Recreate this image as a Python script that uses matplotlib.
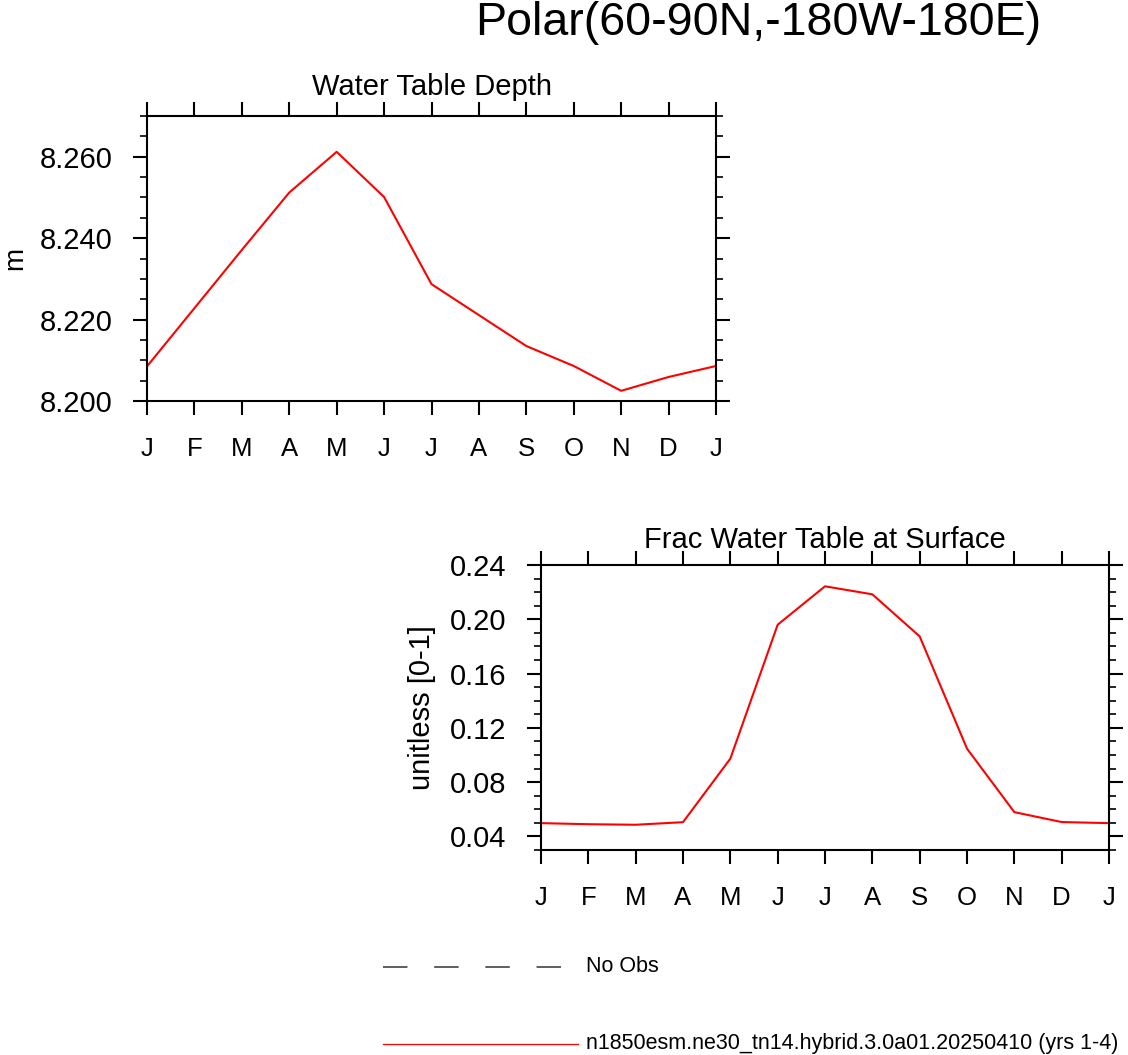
import numpy as np
import matplotlib.pyplot as plt
from matplotlib.lines import Line2D
from matplotlib.ticker import MultipleLocator

plt.rcParams["font.family"] = ["Liberation Sans", "DejaVu Sans"]

month_labels = ["J", "F", "M", "A", "M", "J", "J", "A", "S", "O", "N", "D", "J"]
months = np.arange(13)

# Water Table Depth (m)
wtd = [8.2085, 8.2228, 8.2371, 8.2512, 8.2612, 8.2501, 8.2287,
       8.2211, 8.2135, 8.2086, 8.2025, 8.2059, 8.2086]

# Frac Water Table at Surface (unitless)
frac = [0.0498, 0.0490, 0.0486, 0.0505, 0.0973, 0.1960, 0.2243,
        0.2184, 0.1874, 0.1047, 0.0579, 0.0506, 0.0498]

case_name = "n1850esm.ne30_tn14.hybrid.3.0a01.20250410 (yrs 1-4)"

W, H = 1128, 1055
fig = plt.figure(figsize=(W / 100, H / 100), dpi=100)


def style_axes(ax):
    for s in ax.spines.values():
        s.set_linewidth(1.5)
    ax.set_xlim(0, 12)
    ax.set_xticks(months)
    ax.set_xticklabels(month_labels, fontsize=18.5)
    ax.tick_params(axis="both", which="major", direction="out", length=10,
                   width=1.5, top=True, right=True)
    ax.tick_params(axis="both", which="minor", direction="out", length=5,
                   width=1.2, top=True, right=True)
    ax.tick_params(axis="x", which="major", pad=16)
    ax.tick_params(axis="y", which="major", pad=15, labelsize=21)


# top panel
ax1 = fig.add_axes([147 / W, 1 - 401 / H, 569 / W, 285 / H])
ax1.plot(months, wtd, color="red", linewidth=1.5)
style_axes(ax1)
ax1.set_ylim(8.200, 8.270)
ax1.set_yticks([8.200, 8.220, 8.240, 8.260])
ax1.set_yticklabels(["8.200", "8.220", "8.240", "8.260"])
ax1.yaxis.set_minor_locator(MultipleLocator(0.005))
ax1.set_ylabel("m", fontsize=20, labelpad=8)
ax1.set_title("Water Table Depth", fontsize=21, pad=15)

# bottom panel
ax2 = fig.add_axes([541 / W, 1 - 850 / H, 568 / W, 285 / H])
ax2.plot(months, frac, color="red", linewidth=1.5)
style_axes(ax2)
ax2.set_ylim(0.03, 0.24)
ax2.set_yticks([0.04, 0.08, 0.12, 0.16, 0.20, 0.24])
ax2.set_yticklabels(["0.04", "0.08", "0.12", "0.16", "0.20", "0.24"])
ax2.yaxis.set_minor_locator(MultipleLocator(0.01))
ax2.set_ylabel("unitless [0-1]", fontsize=21, labelpad=10)
ax2.set_title("Frac Water Table at Surface", fontsize=21, pad=12)

# main title
fig.text(758 / W, 1 - 35 / H, "Polar(60-90N,-180W-180E)", fontsize=33.5,
         ha="center", va="baseline")

# legend
fig.add_artist(Line2D([383 / W, 563 / W], [1 - 967 / H, 1 - 967 / H],
                      color="#333333", linewidth=1.1,
                      linestyle=(0, (16, 17.5)), transform=fig.transFigure))
fig.text(586 / W, 1 - 967 / H, "No Obs", fontsize=15.5, va="center", ha="left")
fig.add_artist(Line2D([383 / W, 578 / W], [1 - 1044 / H, 1 - 1044 / H],
                      color="red", linewidth=0.9, transform=fig.transFigure))
fig.text(586 / W, 1 - 1044 / H, case_name, fontsize=15.5, va="center", ha="left")

fig.savefig("out.png", dpi=100)
